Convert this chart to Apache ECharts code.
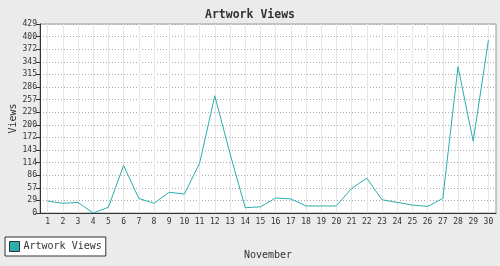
<!DOCTYPE html>
<html>
<head>
<meta charset="utf-8">
<script src="https://cdn.jsdelivr.net/npm/echarts@6/dist/echarts.min.js"></script>
<style>html,body{margin:0;padding:0;background:#ebebeb;}#c{width:500px;height:266px;}</style>
</head>
<body>
<div id="c"></div>
<script>
const days = ['1','2','3','4','5','6','7','8','9','10','11','12','13','14','15','16','17','18','19','20','21','22','23','24','25','26','27','28','29','30'];
const views = [27,22,24,0,13,108,33,22,47,43,113,266,135,12,14,34,32,16,16,16,56,79,30,24,18,15,33,332,163,392];
const yMax = 429;
const ySteps = 15;
const FONT = '"DejaVu Sans Mono", monospace';
const chart = echarts.init(document.getElementById('c'), null, {renderer:'canvas'});
chart.setOption({
  backgroundColor: '#ebebeb',
  animation: false,
  title: {text: 'Artwork Views', left: 'center', top: 4,
    textStyle: {fontFamily: FONT, fontSize: 11.5, fontWeight: 'bold', color: '#333'}},
  legend: {left: 5, bottom: 10, orient: 'horizontal', icon: 'rect', itemWidth: 10, itemHeight: 10, itemGap: 4,
    backgroundColor: '#fff', borderColor: '#333', borderWidth: 1, padding: [4, 4, 4, 4],
    textStyle: {fontFamily: FONT, fontSize: 10, color: '#333', padding: [0,0,0,-1]},
    data: [{name: 'Artwork Views', itemStyle: {color: '#2aaeae', borderColor: '#333', borderWidth: 1}}]},
  grid: {left: 40, right: 4, top: 24, bottom: 53, outerBoundsMode: 'none', containLabel: false,
    show: true, backgroundColor: '#fff', borderColor: '#999', borderWidth: 1},
  xAxis: {type: 'category', data: days, boundaryGap: true,
    name: 'November', nameLocation: 'middle', nameGap: 37, nameMoveOverlap: false,
    nameTextStyle: {fontFamily: FONT, fontSize: 10, color: '#333'},
    axisLine: {lineStyle: {color: '#333', width: 1}},
    axisTick: {alignWithLabel: true, length: 3, lineStyle: {color: '#333'}},
    axisLabel: {fontFamily: FONT, fontSize: 8, color: '#333', margin: 5, interval: 0},
    splitLine: {show: true, alignWithLabel: true, interval: 0, lineStyle: {color: '#e6e6e6', width: 1}}},
  yAxis: {type: 'value', min: 0, max: yMax, interval: yMax / ySteps,
    name: 'Views', nameLocation: 'middle', nameGap: 22, nameMoveOverlap: false,
    nameTextStyle: {fontFamily: FONT, fontSize: 10, color: '#333'},
    axisLine: {show: true, lineStyle: {color: '#333', width: 1}},
    axisTick: {show: true, length: 4, lineStyle: {color: '#333'}},
    axisLabel: {fontFamily: FONT, fontSize: 8, color: '#333', margin: 3, formatter: v => String(Math.round(v))},
    splitLine: {show: true, lineStyle: {color: '#aaa', type: [1, 2], width: 1}}},
  series: [{name: 'Artwork Views', type: 'line', data: views, symbol: 'none',
    lineStyle: {color: '#2aaeae', width: 1}, itemStyle: {color: '#2aaeae'}}]
});
</script>
</body>
</html>
